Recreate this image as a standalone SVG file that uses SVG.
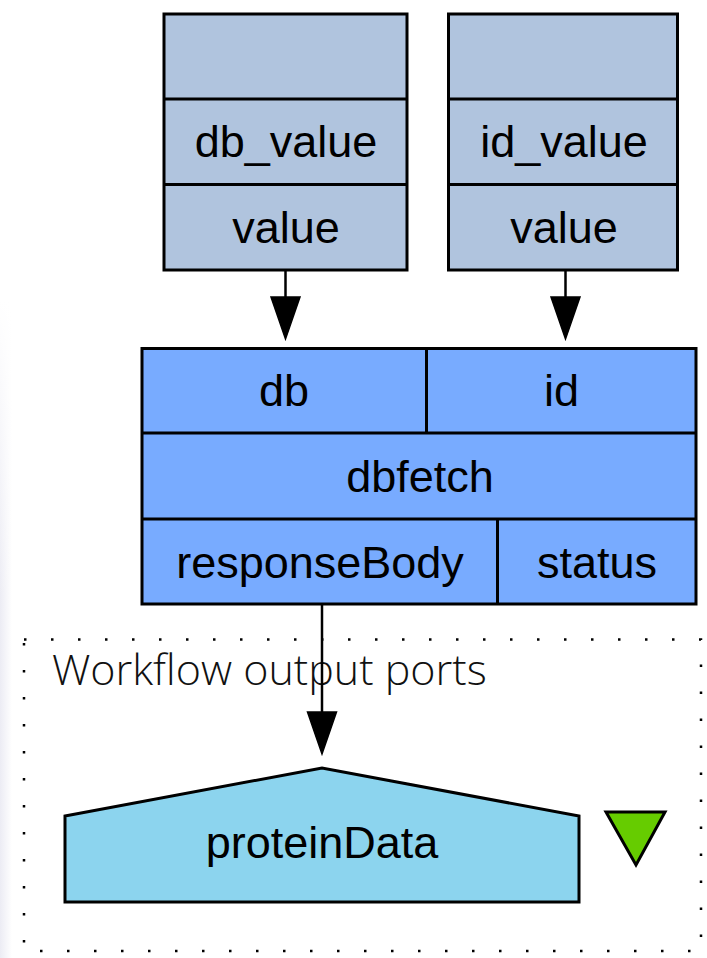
<svg xmlns="http://www.w3.org/2000/svg" width="707" height="958" viewBox="0 0 707 958">
<defs>
<style>
.box{stroke:#000;stroke-width:3;}
.in{fill:#b0c4de;}
.proc{fill:#78abff;}
.lbl{font-family:"Liberation Sans",Arial,sans-serif;font-size:45px;fill:#000;text-anchor:middle;}
.edge{stroke:#000;stroke-width:2.5;fill:none;}
.head{fill:#000;stroke:#000;stroke-width:1.5;}
</style>
<linearGradient id="side" x1="0" y1="0" x2="1" y2="0">
<stop offset="0" stop-color="#ececf4"/>
<stop offset="1" stop-color="#ffffff"/>
</linearGradient>
<linearGradient id="sidev" x1="0" y1="0" x2="0" y2="1">
<stop offset="0" stop-color="#ffffff" stop-opacity="1"/>
<stop offset="1" stop-color="#ffffff" stop-opacity="0"/>
</linearGradient>
</defs>
<rect x="0" y="0" width="707" height="958" fill="#ffffff"/>
<rect x="0" y="300" width="12" height="658" fill="url(#side)"/>
<rect x="0" y="300" width="12" height="300" fill="url(#sidev)"/>

<g id="cluster_outputs">
<rect x="24" y="639.5" width="677" height="311.5" fill="none" stroke="#000" stroke-width="2.5" stroke-dasharray="2.5 24.5"/>
<text x="52" y="685" font-family="'Open Sans',sans-serif" font-weight="300" font-size="43" fill="#111">Workflow output ports</text>
</g>

<g id="node_db_value">
<rect class="box in" x="164" y="14" width="243" height="256"/>
<line class="box" x1="164" y1="99" x2="407" y2="99"/>
<line class="box" x1="164" y1="184.5" x2="407" y2="184.5"/>
<text class="lbl" x="286" y="157">db_value</text>
<text class="lbl" x="286" y="243">value</text>
</g>

<g id="node_id_value">
<rect class="box in" x="448.5" y="14" width="229" height="256"/>
<line class="box" x1="448.5" y1="99" x2="677.5" y2="99"/>
<line class="box" x1="448.5" y1="184.5" x2="677.5" y2="184.5"/>
<text class="lbl" x="564" y="157">id_value</text>
<text class="lbl" x="564" y="243">value</text>
</g>

<g id="node_dbfetch">
<rect class="box proc" x="142" y="348.5" width="554" height="255.5"/>
<line class="box" x1="142" y1="433" x2="696" y2="433"/>
<line class="box" x1="142" y1="519" x2="696" y2="519"/>
<line class="box" x1="426.5" y1="348.5" x2="426.5" y2="433"/>
<line class="box" x1="497.5" y1="519" x2="497.5" y2="604"/>
<text class="lbl" x="284" y="406">db</text>
<text class="lbl" x="561.5" y="406">id</text>
<text class="lbl" x="420" y="492">dbfetch</text>
<text class="lbl" x="320" y="578">responseBody</text>
<text class="lbl" x="597" y="578">status</text>
</g>

<g id="node_proteinData">
<polygon class="box" fill="#8cd4ee" points="65,816 322,768 579,816 579,902 65,902"/>
<text class="lbl" x="322" y="858">proteinData</text>
</g>

<g id="output_marker">
<polygon fill="#66cc00" stroke="#000" stroke-width="3" points="606,812 665,812 636,865"/>
</g>

<g id="connectors">
<line class="edge" x1="285.5" y1="270" x2="285.5" y2="300"/>
<polygon class="head" points="271,297 300,297 285.5,339"/>
<line class="edge" x1="565.5" y1="270" x2="565.5" y2="300"/>
<polygon class="head" points="551,297 580,297 565.5,339"/>
<line class="edge" x1="322" y1="604" x2="322" y2="715"/>
<polygon class="head" points="307.5,712 336.5,712 322,754"/>
</g>
</svg>
